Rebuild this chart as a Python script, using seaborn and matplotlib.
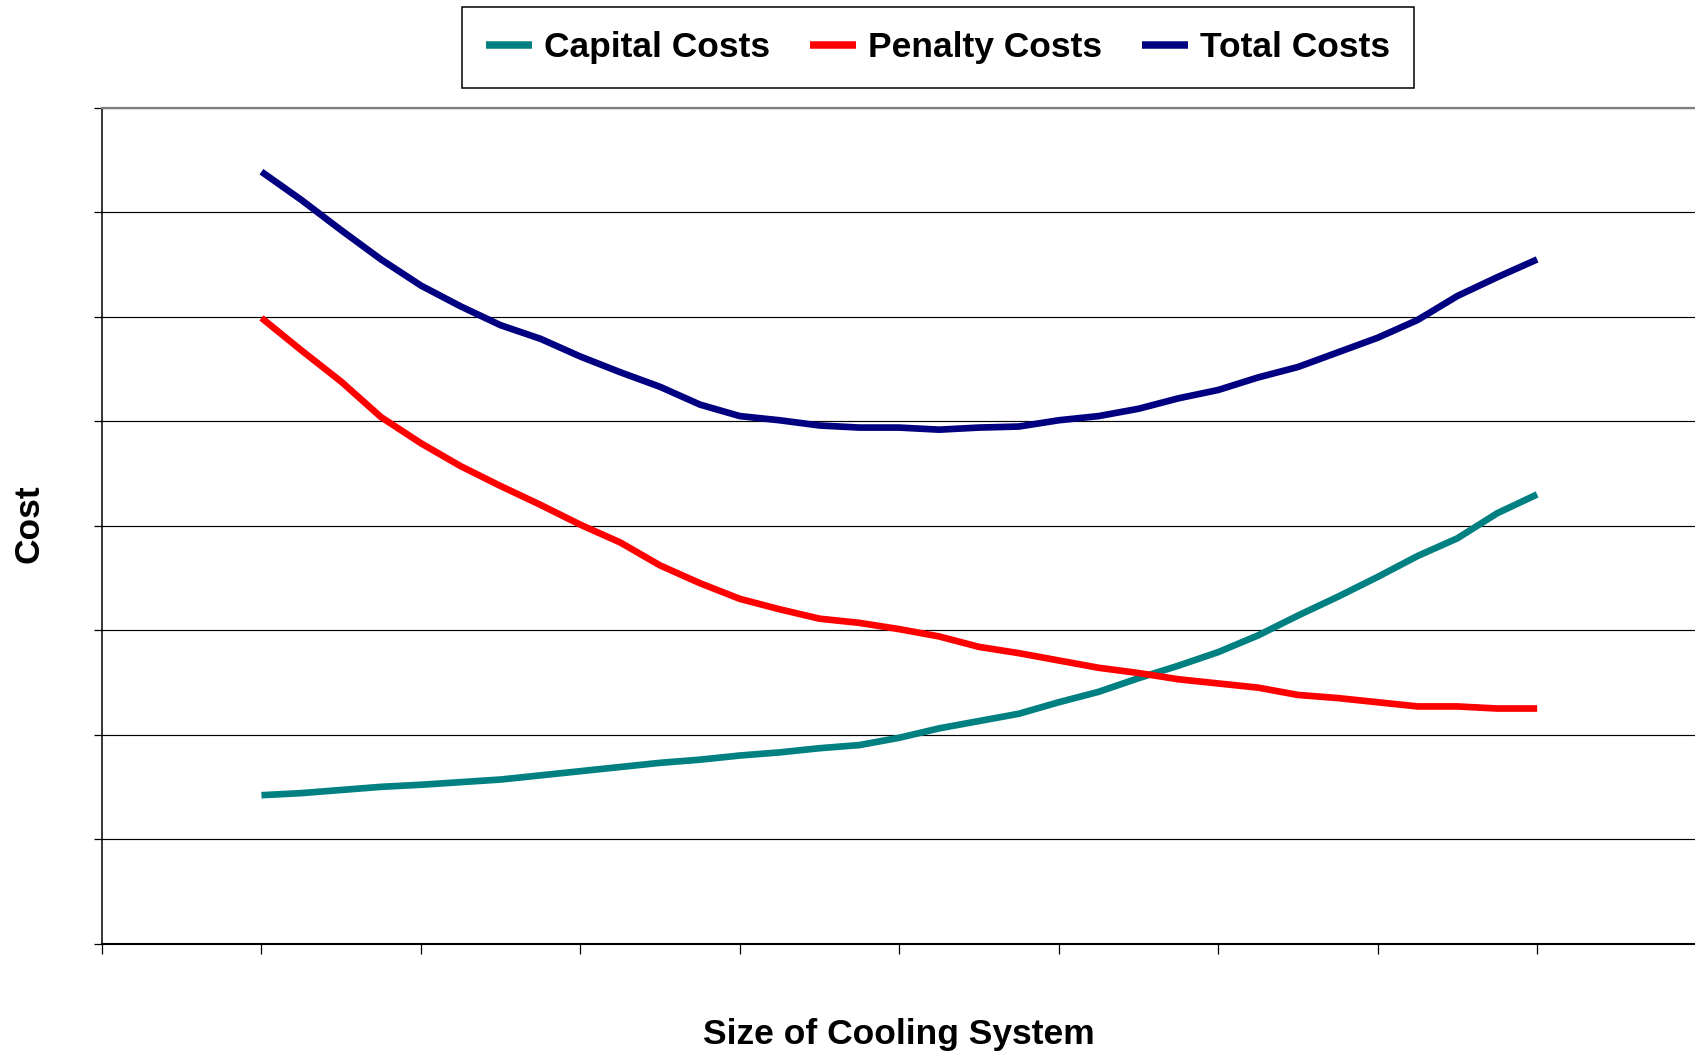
import numpy as np
import pandas as pd
import matplotlib
matplotlib.use("Agg")
import matplotlib.pyplot as plt
import seaborn as sns

# Cost curves versus cooling-system size (arbitrary cost units)
size_steps = list(range(33))

capital_costs = [1.42, 1.44, 1.47, 1.50, 1.52, 1.545, 1.57, 1.61, 1.65, 1.69,
                 1.73, 1.76, 1.80, 1.83, 1.87, 1.90, 1.97, 2.06, 2.13, 2.20,
                 2.31, 2.41, 2.54, 2.66, 2.79, 2.95, 3.14, 3.32, 3.51, 3.71,
                 3.88, 4.12, 4.30]

penalty_costs = [5.99, 5.68, 5.38, 5.04, 4.79, 4.57, 4.38, 4.20, 4.01, 3.84,
                 3.62, 3.45, 3.30, 3.20, 3.11, 3.07, 3.01, 2.94, 2.84, 2.78,
                 2.71, 2.64, 2.59, 2.53, 2.49, 2.45, 2.38, 2.35, 2.31, 2.27,
                 2.27, 2.25, 2.25]

total_costs = [7.39, 7.12, 6.83, 6.55, 6.30, 6.10, 5.92, 5.79, 5.62, 5.47,
               5.33, 5.16, 5.05, 5.01, 4.96, 4.94, 4.94, 4.92, 4.94, 4.95,
               5.01, 5.05, 5.12, 5.22, 5.30, 5.42, 5.52, 5.66, 5.80, 5.97,
               6.20, 6.38, 6.55]

series_names = ["Capital Costs", "Penalty Costs", "Total Costs"]
series_colors = ["#008080", "#FF0000", "#000080"]

df = pd.concat([
    pd.DataFrame({"size": size_steps, "cost": vals, "series": name})
    for name, vals in zip(series_names, [capital_costs, penalty_costs, total_costs])
], ignore_index=True)

sns.set_style("white")
plt.rcParams["font.family"] = ["Liberation Sans", "DejaVu Sans"]
plt.rcParams["font.weight"] = "bold"
plt.rcParams["text.color"] = "black"
plt.rcParams["axes.labelcolor"] = "black"

W, H = 1695, 1057
fig = plt.figure(figsize=(W / 100, H / 100), dpi=100)

# plot area in pixel terms (left, top, right, bottom)
left_px, top_px, right_px, bottom_px = 102, 108, 1696.6, 943.5
ax = fig.add_axes([left_px / W, 1 - bottom_px / H,
                   (right_px - left_px) / W, (bottom_px - top_px) / H])

sns.lineplot(data=df, x="size", y="cost", hue="series", hue_order=series_names,
             palette=dict(zip(series_names, series_colors)), linewidth=4.8,
             ax=ax, sort=False, estimator=None)
for line in ax.get_lines():
    line.set_solid_capstyle("butt")

ax.set_xlim(-4, 36)
ax.set_ylim(0, 8)
ax.set_xticks(np.arange(-4, 37, 4))
ax.set_yticks(np.arange(0, 9, 1))
ax.set_xticklabels([])
ax.set_yticklabels([])
ax.tick_params(axis="x", direction="out", length=7.2, width=0.9, color="black", bottom=True)
ax.tick_params(axis="y", direction="out", length=6.0, width=0.9, color="black", left=True)

# horizontal grid
ax.yaxis.grid(True, color="#000000", linewidth=0.85)
ax.xaxis.grid(False)
ax.set_axisbelow(True)

for side in ["left", "bottom"]:
    ax.spines[side].set_visible(True)
    ax.spines[side].set_color("black")
ax.spines["left"].set_linewidth(1.1)
ax.spines["bottom"].set_linewidth(1.5)
ax.spines["top"].set_visible(True)
ax.spines["top"].set_color("#808080")
ax.spines["top"].set_linewidth(1.6)
ax.spines["right"].set_visible(False)

ax.set_xlabel("Size of Cooling System", fontsize=25.5, fontweight="bold", color="black")
ax.set_ylabel("Cost", fontsize=25.5, fontweight="bold", color="black")
ax.xaxis.label.set_va("center")
ax.yaxis.label.set_va("center")
ax.xaxis.set_label_coords(0.5, (bottom_px - 1034.4) / (bottom_px - top_px))
ax.yaxis.set_label_coords((29 - left_px) / (right_px - left_px), 0.503)

handles, labels = ax.get_legend_handles_labels()
if ax.get_legend() is not None:
    ax.get_legend().remove()
leg = fig.legend(handles, labels, loc="center",
                 bbox_to_anchor=(938 / W, 1 - 47.8 / H),
                 ncol=3, frameon=True, fancybox=False, shadow=False,
                 edgecolor="black", framealpha=1,
                 prop={"size": 25.5, "weight": "bold"},
                 handlelength=1.3, handletextpad=0.33, columnspacing=1.13,
                 borderpad=0.68)
leg.get_frame().set_linewidth(1.1)
for t in leg.get_texts():
    t.set_color("black")
for h in leg.legend_handles:
    h.set_linewidth(5.4)
    h.set_solid_capstyle("butt")

fig.savefig("out.png", dpi=100)
